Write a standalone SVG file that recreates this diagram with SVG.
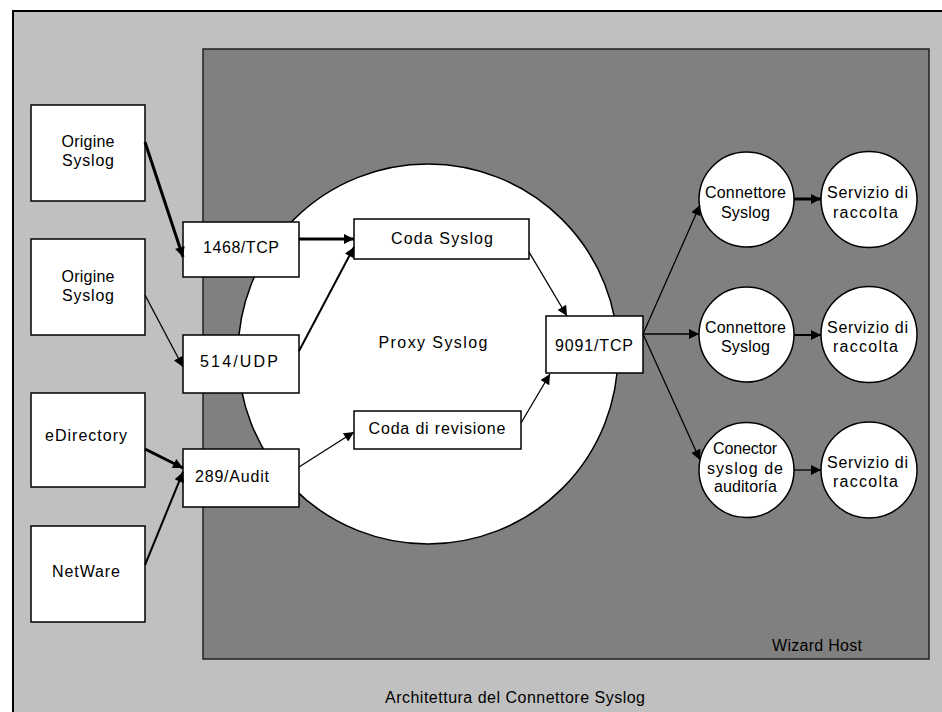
<svg xmlns="http://www.w3.org/2000/svg" width="942" height="712" viewBox="0 0 942 712">
<defs>
<style>
text{font-family:"Liberation Sans",Arial,sans-serif;font-size:16px;fill:#000;text-anchor:middle}
.box{fill:#fff;stroke:#000;stroke-width:1.5}
.c{stroke:#000;fill:none}
.t1{stroke-width:1.3}
.t2{stroke-width:2}
.t3{stroke-width:3}
</style>
<marker id="ah" viewBox="0 0 10 10" refX="10" refY="5" markerWidth="12" markerHeight="10" markerUnits="userSpaceOnUse" orient="auto">
<path d="M0,0 L10,5 L0,10 z" fill="#000"/>
</marker>
</defs>
<g id="background">
<rect x="13" y="11" width="940" height="712" fill="#c0c0c0" stroke="#000" stroke-width="2"/>
</g>
<g id="wizard-host">
<rect x="203" y="49" width="726" height="610" fill="#808080" stroke="#202020" stroke-width="1.5"/>
<text x="817" y="651" textLength="90">Wizard Host</text>
</g>
<g id="proxy-syslog">
<circle cx="428" cy="354" r="190" fill="#fff" stroke="#000" stroke-width="1.5"/>
<text x="433" y="348" textLength="109">Proxy Syslog</text>
</g>
<g id="origine1">
<rect class="box" x="31" y="105" width="114" height="96"/>
<text x="88" y="147" textLength="53">Origine</text>
<text x="88" y="166" textLength="52">Syslog</text>
</g>
<g id="origine2">
<rect class="box" x="31" y="239" width="114" height="96"/>
<text x="88" y="282" textLength="53">Origine</text>
<text x="88" y="301" textLength="52">Syslog</text>
</g>
<g id="edirectory">
<rect class="box" x="31" y="393" width="114" height="94"/>
<text x="86" y="441" textLength="82">eDirectory</text>
</g>
<g id="netware">
<rect class="box" x="31" y="526" width="114" height="96"/>
<text x="86" y="577" textLength="68">NetWare</text>
</g>
<g id="p1468">
<rect class="box" x="183" y="222" width="116" height="55"/>
<text x="241" y="253" textLength="76">1468/TCP</text>
</g>
<g id="p514">
<rect class="box" x="183" y="335" width="116" height="58"/>
<text x="239" y="367" textLength="78">514/UDP</text>
</g>
<g id="p289">
<rect class="box" x="183" y="449" width="116" height="58"/>
<text x="232" y="482" textLength="74">289/Audit</text>
</g>
<g id="coda-syslog">
<rect class="box" x="354" y="219" width="175" height="40"/>
<text x="442" y="244" textLength="102">Coda Syslog</text>
</g>
<g id="coda-revisione">
<rect class="box" x="354" y="411" width="167" height="38"/>
<text x="437" y="434" textLength="137">Coda di revisione</text>
</g>
<g id="p9091">
<rect class="box" x="546" y="316" width="97" height="57"/>
<text x="594" y="351" textLength="78">9091/TCP</text>
</g>
<g id="connettore1">
<circle class="box" cx="746.5" cy="199.5" r="47.5"/>
<text x="745.5" y="198" textLength="81">Connettore</text>
<text x="745.5" y="218" textLength="49">Syslog</text>
</g>
<g id="servizio1">
<circle class="box" cx="869" cy="199.5" r="48"/>
<text x="867.5" y="198" textLength="81">Servizio di</text>
<text x="865.5" y="218" textLength="65">raccolta</text>
</g>
<g id="connettore2">
<circle class="box" cx="746.5" cy="334.5" r="47.5"/>
<text x="745.5" y="333" textLength="81">Connettore</text>
<text x="745.5" y="352" textLength="49">Syslog</text>
</g>
<g id="servizio2">
<circle class="box" cx="869" cy="334.5" r="48"/>
<text x="867.5" y="333" textLength="81">Servizio di</text>
<text x="865.5" y="352" textLength="65">raccolta</text>
</g>
<g id="conector3">
<circle class="box" cx="746.5" cy="470" r="47.5"/>
<text x="745" y="454" textLength="64">Conector</text>
<text x="745" y="474" textLength="76">syslog de</text>
<text x="745.5" y="492" textLength="63">auditoría</text>
</g>
<g id="servizio3">
<circle class="box" cx="869" cy="470" r="48"/>
<text x="867.5" y="468" textLength="81">Servizio di</text>
<text x="865.5" y="487" textLength="65">raccolta</text>
</g>
<g id="connectors">
<line class="c t3" x1="145" y1="142" x2="183" y2="257" marker-end="url(#ah)"/>
<line class="c t1" x1="145" y1="295" x2="183" y2="367" marker-end="url(#ah)"/>
<line class="c t3" x1="145" y1="449" x2="183" y2="468" marker-end="url(#ah)"/>
<line class="c t2" x1="145" y1="565" x2="183" y2="472" marker-end="url(#ah)"/>
<line class="c t3" x1="299" y1="239" x2="354" y2="239" marker-end="url(#ah)"/>
<line class="c t2" x1="299" y1="351" x2="354" y2="247" marker-end="url(#ah)"/>
<line class="c t1" x1="299" y1="467" x2="354" y2="432" marker-end="url(#ah)"/>
<line class="c t1" x1="529" y1="252" x2="567" y2="316" marker-end="url(#ah)"/>
<line class="c t1" x1="521" y1="423" x2="550" y2="374" marker-end="url(#ah)"/>
<line class="c t1" x1="643" y1="334" x2="700" y2="205" marker-end="url(#ah)"/>
<line class="c t1" x1="643" y1="334" x2="699" y2="334" marker-end="url(#ah)"/>
<line class="c t1" x1="643" y1="334" x2="700" y2="460" marker-end="url(#ah)"/>
<line class="c t3" x1="794" y1="199" x2="821" y2="199" marker-end="url(#ah)"/>
<line class="c t2" x1="794" y1="335" x2="821" y2="335" marker-end="url(#ah)"/>
<line class="c t1" x1="794" y1="470" x2="821" y2="470" marker-end="url(#ah)"/>
</g>
<g id="caption">
<text x="515" y="703" textLength="260">Architettura del Connettore Syslog</text>
</g>
</svg>
